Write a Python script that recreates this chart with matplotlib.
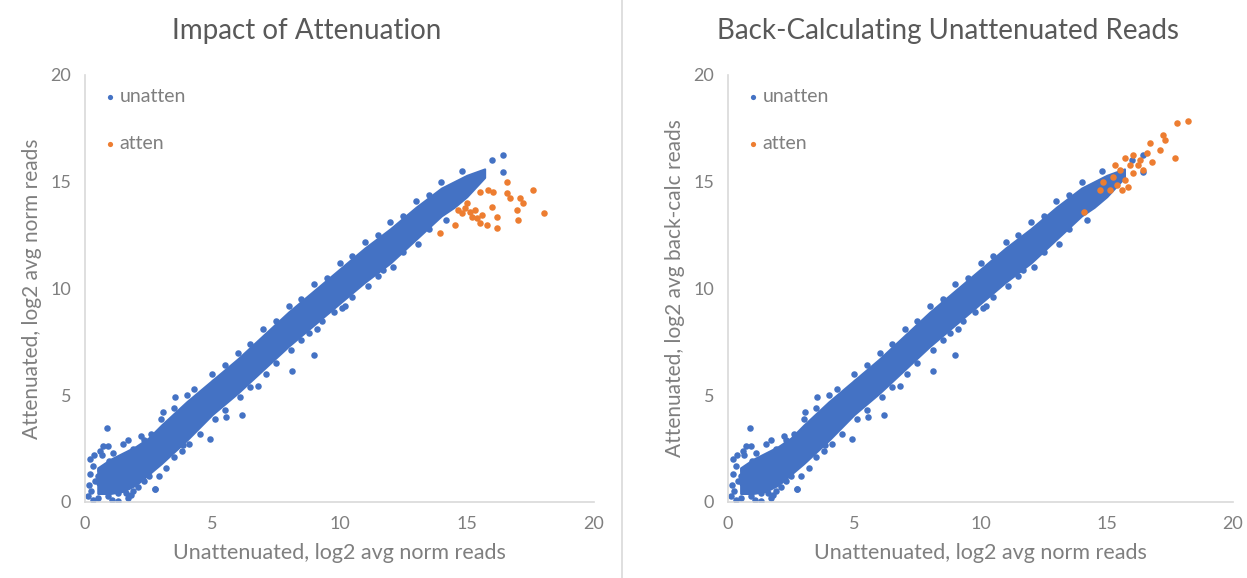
import matplotlib.pyplot as plt
from matplotlib.lines import Line2D

plt.rcParams['font.family'] = ['Lato', 'DejaVu Sans']

BLUE = '#4472C4'
ORANGE = '#ED7D31'
GRAY_TXT = '#7f7f7f'
GRAY_LINE = '#d9d9d9'

# dense core of the unatten cloud (edges)
band_x = [0.5, 1.0, 1.5, 2.0, 2.5, 3.0, 4.0, 5.0, 6.0, 7.0, 8.0, 9.0, 10.0, 11.0, 12.0, 13.0, 14.0, 14.5, 15.0, 15.7]
band_lo = [0.4, 0.4, 0.5, 0.8, 1.3, 1.8, 2.9, 4.1, 5.1, 6.2, 7.3, 8.3, 9.3, 10.3, 11.2, 12.3, 13.4, 13.8, 14.3, 15.2]
band_hi = [1.6, 2.0, 2.3, 2.6, 3.0, 3.6, 4.7, 5.7, 6.7, 7.8, 8.9, 9.9, 10.9, 11.9, 12.8, 13.8, 14.7, 15.0, 15.3, 15.6]

# sparse low end, band fringe and outliers of the unatten series
unatten_x = [0.1, 0.15, 0.2, 0.25, 0.3, 0.2, 0.3,
             0.5, 0.55, 0.6, 0.65, 0.7, 0.5, 0.7, 0.6,
             0.9, 1.0, 1.0, 0.95, 1.1, 1.05, 0.9,
             1.3, 1.35, 1.4, 1.45, 1.5, 1.3, 1.5,
             1.7, 1.75, 1.8, 1.85, 1.9, 1.7, 1.9,
             2.1, 2.15, 2.2, 2.25, 2.3, 2.2, 2.3,
             2.5, 2.6, 2.7, 2.8, 2.6, 2.75,
             0.4, 0.8, 1.2, 1.6, 2.0, 1.1, 0.35, 1.6, 2.4, 2.0,
             3.5, 4.3, 5.5, 6.5, 7.5, 8.5, 9.5, 10.5, 11.5, 12.5, 13.5,
             3.5, 4.5, 5.5, 6.5, 7.5, 8.5, 9.3, 9.8, 10.5, 11.5, 12.5, 13.5, 8.8, 10.2,
             3.0, 4.0, 5.0, 6.0, 7.0, 8.0, 9.0, 10.0, 11.0, 12.0, 13.0, 14.0, 14.8,
             3.2, 4.1, 5.1, 6.1, 7.1, 8.1, 9.1, 10.1, 11.1, 12.1, 13.1, 14.2, 3.8, 2.9,
             11.7, 8.98, 8.12, 6.8, 6.17, 5.55, 4.92, 3.83, 0.87, 3.05, 3.52, 5.07,
             2.74, 2.12, 1.8, 15.98, 16.44, 16.44]
unatten_y = [0.3, 0.8, 1.3, 0.5, 1.7, 2.0, 0.1,
             0.2, 0.9, 1.5, 2.2, 2.6, 1.2, 0.5, 2.4,
             0.3, 0.8, 1.3, 1.9, 2.3, 0.1, 2.6,
             0.4, 1.0, 1.6, 2.1, 2.7, 0.05, 0.7,
             0.2, 0.9, 1.4, 2.0, 2.5, 2.9, 0.5,
             0.7, 1.3, 1.8, 2.4, 2.9, 3.1, 1.0,
             1.2, 1.7, 2.2, 2.7, 3.2, 0.6,
             1.0, 1.6, 1.9, 1.2, 2.2, 0.6, 2.2, 0.4, 2.0, 1.5,
             4.4, 5.3, 6.4, 7.4, 8.5, 9.5, 10.5, 11.5, 12.5, 13.4, 14.4,
             2.1, 3.2, 4.3, 5.4, 6.5, 7.6, 8.5, 8.9, 9.6, 10.6, 11.7, 12.8, 7.9, 9.2,
             3.9, 5.0, 6.0, 7.0, 8.1, 9.2, 10.2, 11.2, 12.2, 13.1, 14.1, 15.0, 15.5,
             1.6, 2.7, 3.9, 4.9, 6.0, 7.1, 8.1, 9.1, 10.1, 11.0, 12.1, 13.2, 2.4, 1.2,
             10.87, 6.89, 6.13, 5.43, 4.07, 3.97, 2.94, 2.67, 3.45, 4.22, 4.92, 5.61,
             0.61, 1.12, 0.35, 16.02, 16.25, 15.47]

atten_x_left = [15.52, 15.85, 16.04, 16.57, 16.57, 16.70, 17.09, 17.22, 16.96, 17.03,
                17.62, 18.04, 14.67, 14.93, 15.13, 15.32, 15.19, 15.39, 15.59, 15.52,
                15.78, 15.98, 16.18, 16.18, 14.54, 13.95, 15.0, 14.80]
atten_y_left = [14.53, 14.61, 14.53, 15.0, 14.46, 14.22, 14.22, 13.99, 13.68, 13.21,
                14.61, 13.52, 13.68, 13.76, 13.60, 13.68, 13.36, 13.29, 13.44, 13.05,
                12.97, 13.83, 13.36, 12.82, 12.97, 12.59, 13.99, 13.52]

atten_x_right = [17.77, 18.23, 17.24, 17.31, 16.71, 17.11, 17.70, 16.58, 16.05, 15.72,
                 16.32, 16.78, 15.92, 16.45, 15.52, 16.05, 15.26, 15.72, 15.39, 15.85,
                 15.59, 15.13, 14.86, 14.73, 15.33, 16.25, 14.1]
atten_y_right = [17.77, 17.85, 17.19, 16.96, 16.83, 16.49, 16.13, 16.33, 16.25, 16.10,
                 16.02, 15.94, 15.78, 15.55, 15.55, 15.40, 15.24, 15.08, 14.85, 14.77,
                 14.61, 14.61, 15.0, 14.61, 15.78, 15.78, 13.6]

ticks = [0, 5, 10, 15, 20]

fig = plt.figure(figsize=(12.47, 5.78), dpi=100)
ax1 = fig.add_axes([0.0682, 0.1315, 0.4082, 0.7388])
ax2 = fig.add_axes([0.5838, 0.1315, 0.4050, 0.7388])

panels = [
    (ax1, 'Impact of Attenuation', 'Attenuated, log2 avg norm reads', atten_x_left, atten_y_left),
    (ax2, 'Back-Calculating Unattenuated Reads', 'Attenuated, log2 avg back-calc reads', atten_x_right, atten_y_right),
]

for ax, title, ylab, ax_x, ax_y in panels:
    ax.fill_between(band_x, band_lo, band_hi, color=BLUE, lw=1.5, edgecolor=BLUE)
    h1 = ax.scatter(unatten_x, unatten_y, s=22, color=BLUE, lw=0, label='unatten')
    h2 = ax.scatter(ax_x, ax_y, s=22, color=ORANGE, lw=0, label='atten')
    ax.set_xlim(0, 20)
    ax.set_ylim(0, 20)
    ax.set_xticks(ticks)
    ax.set_yticks(ticks)
    for side in ['top', 'right']:
        ax.spines[side].set_visible(False)
    for side in ['left', 'bottom']:
        ax.spines[side].set_color(GRAY_LINE)
        ax.spines[side].set_linewidth(1.2)
    ax.tick_params(length=0, labelsize=13, labelcolor=GRAY_TXT, pad=10)
    ax.set_title(title, fontsize=20, color='#595959', pad=26, x=0.435)
    ax.set_xlabel('Unattenuated, log2 avg norm reads', fontsize=15.5, color=GRAY_TXT, labelpad=8)
    ax.set_ylabel(ylab, fontsize=15, color=GRAY_TXT, labelpad=6)
    ax.legend(handles=[h1, h2], loc='upper left', bbox_to_anchor=(-0.005, 1.01),
              frameon=False, fontsize=14, labelcolor=GRAY_TXT, labelspacing=1.55,
              handletextpad=0.0, handlelength=1.0, markerscale=0.8)

fig.add_artist(Line2D([0.4988, 0.4988], [0.0, 1.0], color=GRAY_LINE, lw=1.2))

plt.savefig('out.png', dpi=100)
